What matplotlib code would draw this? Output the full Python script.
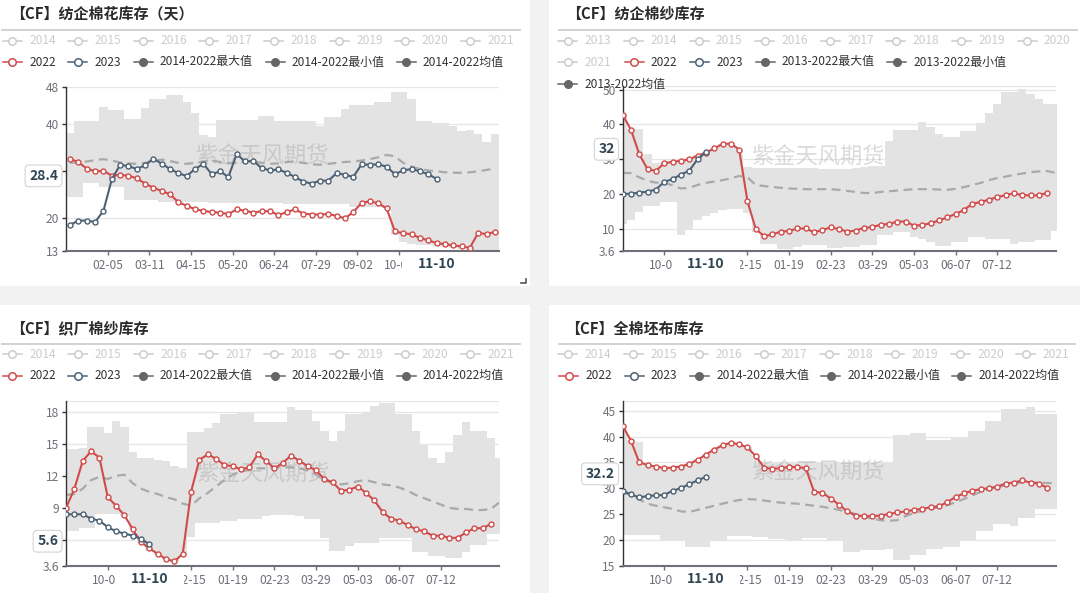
import numpy as np
import matplotlib.pyplot as plt
from matplotlib.lines import Line2D
from matplotlib.patches import Rectangle
from matplotlib.transforms import blended_transform_factory

plt.rcParams['font.family'] = ['Noto Sans CJK SC', 'DejaVu Sans']
plt.rcParams['axes.unicode_minus'] = False

# ---------------- 数据 ----------------
# 纺企棉花库存（天），52周
cotton_2022 = [32.7, 31.9, 30.6, 30.0, 30.1, 29.1, 29.2, 29.1, 28.5, 27.4,
               26.5, 25.8, 25.1, 23.4, 22.7, 21.9, 21.6, 21.3, 21.2, 20.9,
               21.9, 21.6, 21.2, 21.5, 21.5, 20.7, 21.3, 21.9, 21.0, 20.8,
               20.8, 20.9, 20.5, 20.0, 21.3, 23.3, 23.6, 23.2, 22.1, 17.2,
               16.8, 16.6, 15.8, 15.3, 14.7, 14.5, 14.2, 14.0, 13.7, 16.9,
               16.6, 17.1]
cotton_2023 = [18.6, 19.5, 19.5, 19.2, 21.6, 28.3, 31.4, 31.1, 30.5, 31.3,
               32.7, 31.6, 30.5, 29.6, 29.0, 30.5, 31.6, 29.4, 30.0, 28.8,
               33.7, 32.1, 32.2, 30.7, 30.2, 30.4, 29.7, 28.8, 27.8, 27.4,
               28.0, 28.0, 29.6, 29.3, 28.8, 31.5, 31.4, 31.5, 31.0, 29.4,
               30.2, 30.5, 30.0, 29.4, 28.4]
cotton_max = [38.1, 40.7, 40.7, 40.7, 43.7, 43.0, 43.0, 41.2, 41.2, 43.6,
              45.4, 45.4, 46.2, 46.2, 44.7, 42.5, 37.7, 37.4, 41.0, 41.0,
              41.0, 41.0, 41.0, 41.8, 41.8, 40.7, 40.7, 40.7, 40.7, 40.8,
              39.6, 41.5, 41.5, 43.2, 44.2, 44.2, 44.2, 44.7, 44.7, 46.9,
              46.9, 45.4, 40.7, 40.7, 40.3, 40.3, 39.6, 38.5, 38.8, 37.9,
              36.2, 37.9]
cotton_min = [24.6, 24.6, 27.6, 27.6, 26.7, 26.7, 26.7, 23.8, 23.8, 23.8,
              23.8, 23.4, 23.4, 23.4, 23.4, 23.4, 23.4, 23.2, 23.2, 23.2,
              23.2, 23.2, 23.2, 23.2, 23.2, 23.2, 23.0, 23.0, 23.0, 23.0,
              23.0, 23.0, 23.0, 23.0, 22.5, 22.5, 22.5, 22.5, 22.1, 16.5,
              15.0, 14.6, 14.4, 14.2, 14.0, 13.8, 13.6, 13.5, 13.3, 13.0,
              13.0, 13.0]
cotton_mean = [31.8, 31.9, 32.1, 32.4, 32.6, 32.3, 31.9, 31.7, 31.6, 31.8,
               32.3, 32.5, 32.2, 31.8, 31.6, 31.8, 32.1, 32.3, 32.0, 31.7,
               31.9, 32.2, 32.1, 31.8, 31.6, 31.7, 32.0, 32.1, 31.8, 31.5,
               31.4, 31.6, 31.8, 32.0, 32.1, 32.3, 32.6, 33.0, 33.5, 33.2,
               31.8, 31.0, 30.5, 30.2, 30.0, 29.8, 29.7, 29.7, 29.8, 30.0,
               30.3, 30.6]
cotton_ticks = ['02-05', '03-11', '04-15', '05-20', '06-24', '07-29', '09-02', '10-07']

# 纺企棉纱库存，53周
yarn_2022 = [42.8, 38.5, 31.5, 27.1, 26.7, 28.8, 29.3, 29.5, 30.0, 31.0,
             31.9, 33.1, 34.4, 34.5, 32.8, 17.9, 9.9, 7.9, 8.4, 9.2,
             9.4, 10.1, 10.1, 9.0, 9.7, 10.4, 9.9, 9.2, 9.5, 10.3,
             10.5, 11.2, 11.4, 12.1, 12.1, 10.9, 11.1, 11.6, 12.4, 13.3,
             14.3, 15.4, 17.2, 17.7, 18.4, 19.1, 19.7, 20.2, 19.7, 19.6,
             19.6, 20.4]
yarn_2023 = [20.0, 20.1, 20.4, 20.7, 21.3, 23.5, 24.3, 25.6, 26.7, 30.0, 32.0]
yarn_max = [43.0, 38.6, 38.6, 31.5, 29.0, 29.0, 29.5, 29.8, 30.2, 31.2,
            32.0, 33.2, 34.5, 34.7, 33.0, 27.8, 27.5, 27.5, 27.5, 27.5,
            27.5, 27.5, 27.5, 27.5, 27.3, 27.3, 27.3, 27.3, 27.5, 27.8,
            28.0, 28.0, 35.3, 38.3, 38.3, 38.3, 40.8, 39.3, 37.3, 36.3,
            36.3, 38.0, 38.0, 40.3, 43.3, 45.8, 49.3, 49.3, 50.3, 48.8,
            47.3, 45.8, 45.8]
yarn_min = [11.4, 12.6, 14.9, 16.6, 16.6, 17.6, 17.6, 8.1, 9.6, 12.6,
            13.6, 14.6, 15.3, 15.6, 15.6, 14.6, 9.1, 5.7, 5.7, 4.2,
            4.2, 4.7, 5.4, 5.4, 5.3, 4.4, 4.4, 4.7, 4.9, 5.4,
            5.4, 8.2, 8.2, 9.2, 9.2, 7.7, 7.2, 6.2, 5.2, 5.2,
            6.2, 6.2, 7.7, 7.7, 7.2, 7.2, 7.2, 5.7, 6.2, 6.2,
            6.7, 6.7, 9.4]
yarn_mean = [26.1, 26.0, 24.8, 23.8, 23.3, 23.2, 22.5, 21.6, 21.8, 22.6,
             23.2, 23.6, 24.0, 24.5, 25.2, 24.8, 22.6, 22.3, 22.0, 21.8,
             21.6, 21.5, 21.4, 21.4, 21.4, 21.4, 21.2, 20.9, 20.6, 20.3,
             20.3, 20.6, 20.8, 21.0, 21.2, 21.4, 21.4, 21.4, 21.3, 21.2,
             21.5, 22.0, 22.6, 23.2, 24.0, 24.6, 25.0, 25.5, 25.9, 26.3,
             26.5, 26.6, 26.1]

# 织厂棉纱库存
weave_2022 = [9.0, 10.8, 13.4, 14.3, 13.7, 10.0, 9.2, 8.3, 7.0, 5.8,
              5.2, 4.7, 4.2, 4.0, 4.7, 10.5, 13.5, 14.0, 13.6, 13.0,
              12.9, 12.6, 12.8, 14.0, 13.4, 12.7, 13.2, 13.9, 13.4, 12.9,
              12.5, 11.7, 11.4, 10.6, 10.7, 11.0, 10.4, 9.7, 8.6, 8.0,
              7.8, 7.4, 7.0, 6.8, 6.4, 6.4, 6.2, 6.2, 6.7, 7.1,
              7.1, 7.5]
weave_2023 = [8.4, 8.4, 8.4, 8.0, 7.8, 7.2, 6.8, 6.6, 6.4, 6.1, 5.6]
weave_max = [14.5, 14.5, 14.6, 16.6, 16.6, 16.0, 17.1, 16.6, 14.2, 13.7,
             13.7, 13.5, 13.4, 12.9, 12.7, 16.1, 16.1, 16.5, 16.9, 17.8,
             17.8, 18.0, 18.0, 17.0, 17.0, 17.0, 17.0, 18.4, 18.2, 18.2,
             17.1, 16.2, 15.3, 16.2, 17.8, 17.8, 18.0, 18.5, 18.8, 18.8,
             17.8, 17.8, 16.2, 14.9, 13.7, 13.2, 14.2, 15.8, 17.0, 16.2,
             16.2, 15.5, 13.7]
weave_min = [6.8, 6.8, 7.1, 7.1, 8.4, 8.4, 8.4, 8.2, 6.9, 5.7,
             5.0, 4.6, 4.1, 3.9, 4.5, 6.3, 7.6, 7.6, 7.6, 7.8,
             7.8, 8.0, 8.0, 8.0, 8.2, 8.3, 8.3, 8.3, 8.2, 8.0,
             8.0, 6.2, 5.0, 5.0, 5.4, 5.7, 5.7, 5.7, 6.2, 6.2,
             6.2, 6.2, 4.9, 4.9, 4.5, 4.5, 4.3, 4.3, 4.9, 5.5,
             5.5, 6.6, 6.6]
weave_mean = [10.2, 10.3, 10.8, 11.6, 11.9, 11.7, 12.0, 12.1, 11.3, 10.8,
              10.5, 10.3, 10.0, 9.8, 9.4, 9.2, 9.9, 10.4, 11.0, 11.6,
              12.1, 12.4, 12.6, 12.7, 12.7, 12.8, 12.8, 12.8, 12.7, 12.5,
              12.1, 11.6, 11.3, 11.2, 11.3, 11.5, 11.6, 11.4, 11.2, 11.1,
              10.9, 10.6, 10.2, 9.9, 9.6, 9.3, 9.0, 8.9, 8.9, 8.8,
              8.8, 8.9, 9.5]

# 全棉坯布库存
fabric_2022 = [42.1, 39.2, 35.0, 34.5, 34.2, 33.9, 34.0, 34.2, 34.7, 35.5,
               36.5, 37.5, 38.3, 38.8, 38.5, 37.9, 36.2, 34.0, 33.7, 33.9,
               34.1, 34.1, 33.9, 29.3, 29.1, 28.0, 26.8, 25.5, 24.7, 24.6,
               24.6, 24.7, 25.0, 25.3, 25.5, 25.8, 26.0, 26.3, 26.5, 27.3,
               28.3, 29.0, 29.5, 29.8, 30.0, 30.3, 30.9, 31.1, 31.5, 31.1,
               30.9, 30.1]
fabric_2023 = [29.5, 28.8, 28.2, 28.5, 28.6, 28.7, 29.5, 30.0, 30.8, 31.5, 32.2]
fabric_max = [42.3, 39.3, 39.0, 34.6, 34.3, 34.0, 34.1, 34.3, 34.8, 35.6,
              36.6, 37.6, 38.4, 38.9, 38.6, 38.0, 36.3, 34.8, 34.8, 34.8,
              34.8, 34.8, 34.8, 34.8, 34.8, 34.8, 34.8, 34.8, 34.8, 34.8,
              34.8, 34.8, 34.8, 40.3, 40.3, 40.7, 40.7, 39.3, 39.3, 39.3,
              39.7, 39.7, 41.1, 41.1, 43.0, 43.0, 45.3, 45.3, 45.3, 45.7,
              44.3, 44.3, 44.3]
fabric_min = [20.9, 20.9, 20.9, 20.9, 20.9, 20.0, 20.0, 20.0, 18.7, 18.7,
              18.7, 19.7, 19.7, 20.7, 20.7, 20.7, 20.5, 20.5, 20.2, 20.2,
              20.0, 20.0, 20.3, 20.3, 20.3, 19.9, 19.9, 17.7, 17.7, 18.0,
              18.0, 18.0, 18.3, 16.0, 16.0, 17.0, 17.0, 18.2, 18.2, 18.7,
              18.7, 20.0, 20.0, 21.7, 21.7, 23.0, 23.0, 22.7, 24.3, 24.3,
              26.0, 26.0, 26.0]
fabric_mean = [29.0, 28.8, 27.8, 27.0, 26.6, 26.3, 26.0, 25.5, 25.4, 25.8,
               26.2, 26.6, 27.0, 27.4, 27.7, 27.9, 27.8, 27.6, 27.4, 27.2,
               27.1, 27.0, 26.8, 26.6, 26.4, 26.1, 25.8, 25.4, 25.0, 24.5,
               24.1, 23.8, 23.7, 23.8, 24.6, 25.2, 25.6, 26.0, 26.3, 26.7,
               27.3, 27.9, 28.6, 29.3, 29.8, 30.2, 30.6, 30.9, 31.1, 31.1,
               31.1, 31.0, 31.0]
season_ticks = ['10-06', '12-15', '01-19', '02-23', '03-29', '05-03', '06-07', '07-12']
last_date = '11-10'

# ---------------- 画图 ----------------
W, H = 1080, 593
RED = '#d14b4b'
BLUE = '#4d6174'
BAND = '#e3e3e3'
MEAN = '#a9a9a9'
GREY = '#666666'
OFF = '#cccccc'
TXT = '#6e7079'
PTR = '#2f4554'

fig = plt.figure(figsize=(W / 100, H / 100), dpi=100)
fig.patch.set_facecolor('#f2f2f2')


def fx(x):
    return x / W


def fy(y):
    return 1 - y / H


# 四块白色卡片
for x0, y0, x1, y1 in [(0, 0, 530, 286), (549, 0, 1080, 286),
                       (0, 305, 530, 593), (549, 305, 1080, 593)]:
    fig.add_artist(Rectangle((fx(x0), fy(y1)), (x1 - x0) / W, (y1 - y0) / H,
                             transform=fig.transFigure, fc='white', ec='none', zorder=-1))

# 右下角的小拖拽标记
fig.add_artist(Line2D([fx(521), fx(526), fx(526)], [fy(283), fy(283), fy(278.5)],
                      color='#555555', lw=1.2, transform=fig.transFigure))


def title(x, y, text, x0, x1, ly):
    fig.text(fx(x), fy(y), text, fontsize=10.8, fontweight='bold', color='#2b2b2b',
             ha='left', va='center')
    fig.add_artist(Line2D([fx(x0), fx(x1)], [fy(ly), fy(ly)], color='#cfcfcf', lw=1.3,
                          transform=fig.transFigure))


def legend(items, y):
    yy = fy(y)
    for label, tx, kind in items:
        mx = tx - 17
        if kind == 'off':
            c, face, tc = OFF, 'white', OFF
        elif kind == 'red':
            c, face, tc = RED, 'white', '#333333'
        elif kind == 'blue':
            c, face, tc = BLUE, 'white', '#333333'
        else:
            c, face, tc = GREY, GREY, '#333333'
        fig.add_artist(Line2D([fx(mx - 9.5), fx(mx + 9.5)], [yy, yy], color=c, lw=1.1,
                              transform=fig.transFigure))
        fig.add_artist(Line2D([fx(mx)], [yy], marker='o', ms=5.4, mfc=face, mec=c, mew=1.1,
                              lw=0, transform=fig.transFigure))
        fig.text(fx(tx), yy, label, fontsize=8.6, color=tc, ha='left', va='center')


def panel(box, ylim, yticks, grid, n, gap, s22, s23, smax, smin, smean,
          tick_pos, tick_labels, mark):
    left, top, right, bottom = box
    ax = fig.add_axes([fx(left), fy(bottom), (right - left) / W, (bottom - top) / H])
    ax.patch.set_alpha(0)
    if gap:
        ax.set_xlim(-0.5, n - 0.5)
    else:
        ax.set_xlim(0, n - 1)
    ax.set_ylim(*ylim)

    for g in grid:
        ax.axhline(g, color='#e6e6e6', lw=0.9, zorder=0.5)

    edges = np.arange(n + 1) - 0.5
    ax.fill_between(edges, np.append(smin, smin[-1]), np.append(smax, smax[-1]),
                    step='post', color=BAND, lw=0, zorder=1)
    ax.text(mark[0], mark[1], '紫金天风期货', transform=fig.transFigure, fontsize=16,
            color='#999999', alpha=0.35, ha='center', va='center', zorder=1.5)
    ax.plot(np.arange(n), smean, color=MEAN, lw=1.6, ls=(0, (4, 2.5)), zorder=2)
    ax.plot(np.arange(len(s22)), s22, color=RED, lw=1.5, marker='o', ms=3.6,
            mfc='white', mec=RED, mew=1, zorder=3)
    ax.plot(np.arange(len(s23)), s23, color=BLUE, lw=1.5, marker='o', ms=3.6,
            mfc='white', mec=BLUE, mew=1, zorder=4)

    for s in ['top', 'right']:
        ax.spines[s].set_visible(False)
    ax.spines['left'].set_color('#333333')
    ax.spines['left'].set_linewidth(1)
    ax.spines['bottom'].set_color(TXT)
    ax.spines['bottom'].set_linewidth(1.5)

    ax.set_yticks(yticks)
    ax.set_yticklabels([f'{t:g}' for t in yticks])
    ax.set_xticks(tick_pos)
    ax.set_xticklabels(tick_labels)
    ax.tick_params(axis='y', length=3, width=1, color='#333333', labelcolor=TXT,
                   labelsize=8.6, pad=2)
    ax.tick_params(axis='x', length=3, width=1, color=TXT, labelcolor=TXT,
                   labelsize=8.6, pad=3)

    # 坐标轴指示器标签
    last_i = len(s23) - 1
    last_v = s23[-1]
    ax.annotate(f'{last_v:g}', xy=(0, last_v), xycoords=('axes fraction', 'data'),
                xytext=(-8, 3), textcoords='offset pixels', ha='right', va='center',
                fontsize=10, fontweight='bold', color=PTR, zorder=10, annotation_clip=False,
                bbox=dict(boxstyle='round,pad=0.28', fc='white', ec='#d4d4d4', lw=0.8))
    bt = blended_transform_factory(ax.transData, ax.transAxes)
    h = bottom - top
    ax.add_patch(Rectangle((last_i - 4.1, -22 / h), 8.2, 16 / h, transform=bt,
                           fc='white', ec='none', zorder=9, clip_on=False))
    ax.annotate(last_date, xy=(last_i, 0), xycoords=bt, xytext=(0, -13),
                textcoords='offset pixels', ha='center', va='center', fontsize=10,
                fontweight='bold', color=PTR, zorder=10, annotation_clip=False)
    return ax


# 左上：纺企棉花库存（天）
title(10, 14, '【CF】纺企棉花库存（天）', 2, 520, 30.3)
legend([(str(y), 29.3 + 65.4 * k, 'off') for k, y in enumerate(range(2014, 2022))], 40.6)
legend([('2022', 29.3, 'red'), ('2023', 94.7, 'blue'), ('2014-2022最大值', 160, 'grey'),
        ('2014-2022最小值', 292, 'grey'), ('2014-2022均值', 423, 'grey')], 62)
panel((66, 86.9, 499, 251.1), (13, 48), [13, 20, 30, 40, 48], [20, 30, 40, 48], 52, True,
      cotton_2022, cotton_2023, cotton_max, cotton_min, cotton_mean,
      [4.5 + 5 * k for k in range(len(cotton_ticks))], cotton_ticks, (fx(262), fy(156)))

# 右上：纺企棉纱库存
season_pos = [5, 15, 20, 25, 30, 35, 40, 45]
title(566, 14, '【CF】纺企棉纱库存', 559, 1077, 30.3)
legend([(str(y), 584.8 + 65.6 * k, 'off') for k, y in enumerate(range(2013, 2021))], 40.6)
legend([('2021', 584.8, 'off'), ('2022', 651, 'red'), ('2023', 716.3, 'blue'),
        ('2013-2022最大值', 782, 'grey'), ('2013-2022最小值', 913.6, 'grey')], 62)
legend([('2013-2022均值', 584.8, 'grey')], 84.4)
ax2 = panel((622.6, 86.2, 1055.5, 251.1), (3.6, 51), [3.6, 10, 20, 30, 40, 50],
            [10, 20, 30, 40, 50, 51], 53, False,
            yarn_2022, yarn_2023, yarn_max, yarn_min, yarn_mean,
            season_pos, season_ticks, (fx(818), fy(157.5)))

# 左下：织厂棉纱库存
title(10, 329.3, '【CF】织厂棉纱库存', 2, 520, 344)
legend([(str(y), 29.3 + 65.4 * k, 'off') for k, y in enumerate(range(2014, 2022))], 354.4)
legend([('2022', 29.3, 'red'), ('2023', 94.7, 'blue'), ('2014-2022最大值', 160, 'grey'),
        ('2014-2022最小值', 292, 'grey'), ('2014-2022均值', 423, 'grey')], 375.8)
panel((66.1, 401, 499.3, 565.6), (3.6, 19), [3.6, 6, 9, 12, 15, 18],
      [6, 9, 12, 15, 18, 19], 53, False,
      weave_2022, weave_2023, weave_max, weave_min, weave_mean,
      season_pos, season_ticks, (fx(263), fy(474)))

# 右下：全棉坯布库存
title(565, 329.3, '【CF】全棉坯布库存', 559, 1075, 344)
legend([(str(y), 584.8 + 65.4 * k, 'off') for k, y in enumerate(range(2014, 2022))], 354.4)
legend([('2022', 585.8, 'red'), ('2023', 651, 'blue'), ('2014-2022最大值', 716.3, 'grey'),
        ('2014-2022最小值', 847.5, 'grey'), ('2014-2022均值', 978.4, 'grey')], 375.8)
panel((622.6, 401, 1055.5, 565.6), (15, 46.9), [15, 20, 25, 30, 35, 40, 45],
      [20, 25, 30, 35, 40, 45, 46.9], 53, False,
      fabric_2022, fabric_2023, fabric_max, fabric_min, fabric_mean,
      season_pos, season_ticks, (fx(818), fy(472.6)))

fig.savefig('out.png', dpi=100, facecolor=fig.get_facecolor())
